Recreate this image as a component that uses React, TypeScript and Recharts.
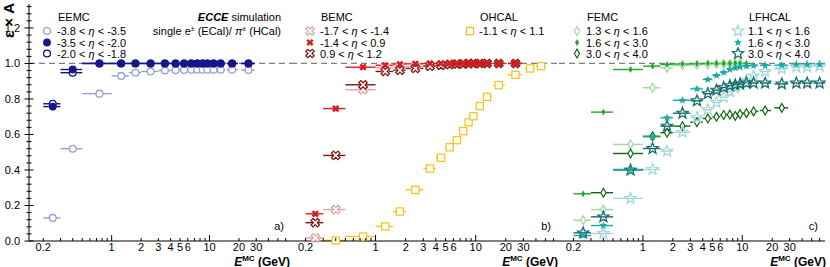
import React from "react";
import { ScatterChart, Scatter, XAxis, YAxis, ErrorBar, ReferenceLine } from "recharts";

// energy bins (GeV): centre, lower edge, upper edge
const E_GEV = [0.25, 0.4, 0.75, 1.25, 1.75, 2.5, 3.5, 4.5, 5.5, 6.5, 7.5, 8.5, 9.5, 11, 13, 17, 25, 35, 45, 60];
const BIN_LO = [0.2, 0.3, 0.5, 1.0, 1.5, 2.0, 3.0, 4.0, 5.0, 6.0, 7.0, 8.0, 9.0, 10, 12, 15, 21, 31, 40, 52];
const BIN_HI = [0.3, 0.5, 1.0, 1.5, 2.0, 3.0, 4.0, 5.0, 6.0, 7.0, 8.0, 9.0, 10, 12, 14.5, 19.5, 29, 39, 50, 68];

// a) EEMC
const EEMC_38_35 = [0.13, 0.52, 0.83, 0.93, 0.948, 0.955, 0.96, 0.962, 0.963, 0.965, 0.965, 0.965, 0.965, 0.965, 0.965, 0.965, 0.963, null, null, null];
const EEMC_35_20 = [0.757, 0.966, 1, 1, 1, 1, 1, 1, 1, 1, 1, 1, 1, 1, 1, 1, 1, null, null, null];
const EEMC_20_18 = [0.773, 0.948, 1, 1, 1, 1, 1, 1, 1, 1, 1, 1, 1, 1, 1, 1, 1, null, null, null];

// b) BEMC + OHCAL
const BEMC_17_14 = [0.018, 0.177, 0.852, 0.975, 0.98, 0.983, 0.987, 0.99, 0.993, 0.995, 0.997, 0.998, 0.998, 1, 1, 1, 1, null, null, null];
const BEMC_14_09 = [0.153, 0.746, 0.979, 0.99, 0.995, 0.998, 1, 1, 1, 1, 1, 1, 1, 1, 1, 1, 1, null, null, null];
const BEMC_09_12 = [0.103, 0.482, 0.88, 0.955, 0.962, 0.972, 0.985, 0.99, 0.995, 0.997, 0.998, 1, 1, 1, 1, 1, 1, null, null, null];
const OHCAL_11_11 = [null, 0.003, 0.025, 0.082, 0.166, 0.288, 0.408, 0.469, 0.528, 0.568, 0.619, 0.669, 0.703, 0.76, 0.812, 0.878, 0.936, 0.972, 0.985, null];

// c) FEMC + LFHCAL
const FEMC_13_16 = [0.117, 0.177, 0.544, 0.863, 0.975, 0.99, 0.993, 0.995, 0.997, 0.998, 0.998, 0.999, 1, null, null, null, null, null, null, null];
const FEMC_16_30 = [0.266, 0.726, 0.966, 0.985, 0.994, 0.997, 0.998, 1, 1, 1, 1, 1, 1, 1, null, null, null, null, null, null];
const FEMC_30_40 = [null, 0.272, 0.493, 0.59, 0.61, 0.647, 0.669, 0.69, 0.7, 0.71, 0.712, 0.705, 0.715, 0.72, 0.73, 0.735, 0.75, null, null, null];
const LFHCAL_11_16 = [null, 0.042, 0.24, 0.403, 0.506, 0.613, 0.695, 0.74, 0.78, 0.81, 0.84, 0.86, 0.88, 0.905, 0.93, 0.955, 0.97, 0.98, 0.98, 0.985];
const LFHCAL_16_30 = [0.031, 0.087, 0.403, 0.587, 0.694, 0.793, 0.857, 0.91, 0.932, 0.95, 0.966, 0.975, 0.98, 0.985, 0.988, 0.99, 0.99, 0.995, 0.995, 0.995];
const LFHCAL_30_40 = [0.046, 0.136, 0.4, 0.521, 0.647, 0.72, 0.79, 0.83, 0.85, 0.865, 0.875, 0.88, 0.885, 0.89, 0.89, 0.89, 0.885, 0.89, 0.89, 0.89];

const X_DOMAIN = [0.143, 68];
const Y_DOMAIN = [0, 1.335];
const X_TICKS = [0.2, 0.3, 0.4, 0.5, 0.6, 0.7, 0.8, 0.9, 1, 2, 3, 4, 5, 6, 7, 8, 9, 10, 20, 30, 40, 50, 60];
const X_TICK_LABELS = ["0.2", "1", "2", "3", "4", "5", "6", "10", "20", "30"];
const X_MAJOR = [1, 10];
const Y_TICK_LABELS = ["0.0", "0.2", "0.4", "0.6", "0.8", "1.0", "1.2"];
const Y_TICKS = Array.from({ length: 34 }, (_, i) => +(i * 0.04).toFixed(2));

const FONT = "'Liberation Sans', Arial, Helvetica, sans-serif";

type Kind = "circleOpen" | "circle" | "xOpen" | "x" | "squareOpen" | "diamondOpen" | "diamond" | "starOpen" | "star";

function starPts(cx: number, cy: number, ro: number, ri: number) {
  const pts: string[] = [];
  for (let k = 0; k < 10; k++) {
    const r = k % 2 === 0 ? ro : ri;
    const a = -Math.PI / 2 + (k * Math.PI) / 5;
    pts.push(`${cx + r * Math.cos(a)},${cy + r * Math.sin(a)}`);
  }
  return pts.join(" ");
}

function crossPts(cx: number, cy: number, r: number, a: number) {
  const base = [[a, r], [a, a], [r, a], [r, -a], [a, -a], [a, -r], [-a, -r], [-a, -a], [-r, -a], [-r, a], [-a, a], [-a, r]];
  const c = Math.SQRT1_2;
  return base.map(([x, y]) => `${cx + (x - y) * c},${cy + (x + y) * c}`).join(" ");
}

function Glyph({ cx, cy, kind, color }: { cx: number; cy: number; kind: Kind; color: string }) {
  if (cx == null || cy == null) return null;
  switch (kind) {
    case "circleOpen":
      return <circle cx={cx} cy={cy} r={3.4} fill="#fff" stroke={color} strokeWidth={1.3} />;
    case "circle":
      return <circle cx={cx} cy={cy} r={3.9} fill={color} />;
    case "squareOpen":
      return <rect x={cx - 3.6} y={cy - 3.6} width={7.2} height={7.2} fill="#fff" stroke={color} strokeWidth={1.3} />;
    case "xOpen":
      return <polygon points={crossPts(cx, cy, 4.6, 1.4)} fill="#fff" stroke={color} strokeWidth={1.2} />;
    case "x":
      return <polygon points={crossPts(cx, cy, 3.8, 1.3)} fill={color} />;
    case "diamondOpen":
      return <polygon points={`${cx},${cy - 4.4} ${cx + 2.6},${cy} ${cx},${cy + 4.4} ${cx - 2.6},${cy}`} fill="#fff" stroke={color} strokeWidth={1.2} />;
    case "diamond":
      return <polygon points={`${cx},${cy - 3.4} ${cx + 2},${cy} ${cx},${cy + 3.4} ${cx - 2},${cy}`} fill={color} />;
    case "starOpen":
      return <polygon points={starPts(cx, cy, 5.8, 2.5)} fill="none" stroke={color} strokeWidth={1.3} />;
    case "star":
      return <polygon points={starPts(cx, cy, 4.2, 1.8)} fill={color} />;
  }
  return null;
}

interface SeriesDef {
  label: string;
  values: (number | null)[];
  color: string;
  kind: Kind;
}

interface LegendGroup {
  title: string;
  x: number; // text x
  mx: number; // marker x
  items: SeriesDef[];
}

const S_EEMC_1: SeriesDef = { label: "-3.8 < η < -3.5", values: EEMC_38_35, color: "#9c9cdc", kind: "circleOpen" };
const S_EEMC_2: SeriesDef = { label: "-3.5 < η < -2.0", values: EEMC_35_20, color: "#16168c", kind: "circle" };
const S_EEMC_3: SeriesDef = { label: "-2.0 < η < -1.8", values: EEMC_20_18, color: "#121270", kind: "circleOpen" };
const S_BEMC_1: SeriesDef = { label: "-1.7 < η < -1.4", values: BEMC_17_14, color: "#dca4a4", kind: "xOpen" };
const S_BEMC_2: SeriesDef = { label: "-1.4 < η < 0.9", values: BEMC_14_09, color: "#dc1c1c", kind: "x" };
const S_BEMC_3: SeriesDef = { label: "0.9 < η < 1.2", values: BEMC_09_12, color: "#7e1414", kind: "xOpen" };
const S_OHCAL: SeriesDef = { label: "-1.1 < η < 1.1", values: OHCAL_11_11, color: "#f6c428", kind: "squareOpen" };
const S_FEMC_1: SeriesDef = { label: "1.3 < η < 1.6", values: FEMC_13_16, color: "#9cd89c", kind: "diamondOpen" };
const S_FEMC_2: SeriesDef = { label: "1.6 < η < 3.0", values: FEMC_16_30, color: "#22a822", kind: "diamond" };
const S_FEMC_3: SeriesDef = { label: "3.0 < η < 4.0", values: FEMC_30_40, color: "#0e6a0e", kind: "diamondOpen" };
const S_LF_1: SeriesDef = { label: "1.1 < η < 1.6", values: LFHCAL_11_16, color: "#a4d8d8", kind: "starOpen" };
const S_LF_2: SeriesDef = { label: "1.6 < η < 3.0", values: LFHCAL_16_30, color: "#1aa8a8", kind: "star" };
const S_LF_3: SeriesDef = { label: "3.0 < η < 4.0", values: LFHCAL_30_40, color: "#176c6c", kind: "starOpen" };

function toPoints(values: (number | null)[]) {
  const out: { x: number; y: number; ex: number[] }[] = [];
  E_GEV.forEach((e, i) => {
    const v = values[i];
    if (v == null) return;
    out.push({ x: e, y: v, ex: [e - BIN_LO[i], BIN_HI[i] - e] });
  });
  return out;
}

const isMajorY = (v: number) => Math.abs(v / 0.2 - Math.round(v / 0.2)) < 1e-6;

function BottomTick(p: any) {
  const v = p.payload.value;
  const label = X_TICK_LABELS.find((l) => +l === v);
  const len = X_MAJOR.includes(v) ? 6 : 3;
  return (
    <g>
      <line x1={p.x} x2={p.x} y1={p.y} y2={p.y - len} stroke="#000" />
      {label && (
        <text x={p.x} y={p.y + 10} textAnchor="middle" fontSize={11} fontFamily={FONT} fill="#000">
          {label}
        </text>
      )}
    </g>
  );
}

function TopTick(p: any) {
  const len = X_MAJOR.includes(p.payload.value) ? 6 : 3;
  return <line x1={p.x} x2={p.x} y1={p.y} y2={p.y + len} stroke="#000" />;
}

function LeftTick(p: any, labels: boolean) {
  const v = p.payload.value;
  const major = isMajorY(v);
  const len = major ? 4.5 : 2.5;
  const label = major ? Y_TICK_LABELS.find((l) => Math.abs(+l - v) < 1e-6) : undefined;
  return (
    <g>
      <line x1={p.x - len} x2={p.x + len} y1={p.y} y2={p.y} stroke="#000" />
      {labels && label && (
        <text x={p.x - 9} y={p.y + 4} textAnchor="end" fontSize={11} fontFamily={FONT} fill="#000">
          {label}
        </text>
      )}
    </g>
  );
}

function RightTick(p: any) {
  const len = isMajorY(p.payload.value) ? 4.5 : 2.5;
  return <line x1={p.x} x2={p.x - len} y1={p.y} y2={p.y} stroke="#000" />;
}

function Panel({ left, width, marginLeft, yWidth, series, labels }: { left: number; width: number; marginLeft: number; yWidth: number; series: SeriesDef[]; labels: boolean }) {
  return (
    <div style={{ position: "absolute", left, top: 0 }}>
      <ScatterChart width={width} height={267} margin={{ top: 4, right: 1, bottom: 0, left: marginLeft }}>
        <XAxis xAxisId="b" dataKey="x" type="number" scale="log" domain={X_DOMAIN} ticks={X_TICKS} interval={0}
          tickLine={false} tickSize={0} tickMargin={0} tick={BottomTick} axisLine={{ stroke: "#000" }} height={26} />
        <XAxis xAxisId="t" orientation="top" dataKey="x" type="number" scale="log" domain={X_DOMAIN} ticks={X_TICKS} interval={0}
          tickLine={false} tickSize={0} tickMargin={0} tick={TopTick} axisLine={{ stroke: "#000" }} height={0} />
        <YAxis yAxisId="l" dataKey="y" type="number" domain={Y_DOMAIN} ticks={Y_TICKS} interval={0}
          tickLine={false} tickSize={0} tickMargin={0} tick={(p: any) => LeftTick(p, labels)} axisLine={{ stroke: "#000" }} width={yWidth} />
        <YAxis yAxisId="r" orientation="right" dataKey="y" type="number" domain={Y_DOMAIN} ticks={Y_TICKS} interval={0}
          tickLine={false} tickSize={0} tickMargin={0} tick={RightTick} axisLine={{ stroke: "#000" }} width={0} />
        <ReferenceLine xAxisId="b" yAxisId="l" y={1} stroke="#808080" strokeDasharray="6 4" strokeWidth={1.2} />
        {series.map((s) => (
          <Scatter key={s.label + s.color} xAxisId="b" yAxisId="l" data={toPoints(s.values)} isAnimationActive={false}
            shape={(p: any) => <Glyph cx={p.cx} cy={p.cy} kind={s.kind} color={s.color} />}>
            <ErrorBar dataKey="ex" direction="x" width={0} stroke={s.color} strokeWidth={1.4} isAnimationActive={false} />
          </Scatter>
        ))}
      </ScatterChart>
    </div>
  );
}

const LEGENDS: LegendGroup[] = [
  { title: "EEMC", x: 57, mx: 47, items: [S_EEMC_1, S_EEMC_2, S_EEMC_3] },
  { title: "BEMC", x: 320, mx: 310, items: [S_BEMC_1, S_BEMC_2, S_BEMC_3] },
  { title: "OHCAL", x: 479, mx: 470, items: [S_OHCAL] },
  { title: "FEMC", x: 586, mx: 577, items: [S_FEMC_1, S_FEMC_2, S_FEMC_3] },
  { title: "LFHCAL", x: 748, mx: 738, items: [S_LF_1, S_LF_2, S_LF_3] },
];
const ROW_Y = [31, 42.5, 53.5];

function EtaLabel({ x, y, text }: { x: number; y: number; text: string }) {
  const [a, b] = text.split("η");
  return (
    <text x={x} y={y} fontSize={11} fontFamily={FONT} fill="#000">
      {a}
      <tspan fontStyle="italic">η</tspan>
      {b}
    </text>
  );
}

function XTitle({ right }: { right: number }) {
  return (
    <text x={right} y={265.5} textAnchor="end" fontSize={12} fontWeight="bold" fontFamily={FONT} fill="#000">
      <tspan fontStyle="italic">E</tspan>
      <tspan dy={-5} fontSize={8}>MC</tspan>
      <tspan dy={5}> (GeV)</tspan>
    </text>
  );
}

export default function App() {
  return (
    <div style={{ position: "absolute", left: 0, top: 0, width: 830, height: 267, background: "#fff", overflow: "hidden" }}>
      <Panel left={0} width={292} marginLeft={0} yWidth={29} series={[S_EEMC_1, S_EEMC_3, S_EEMC_2]} labels />
      <Panel left={290} width={270} marginLeft={1} yWidth={0} series={[S_OHCAL, S_BEMC_1, S_BEMC_3, S_BEMC_2]} labels={false} />
      <Panel left={558} width={268} marginLeft={1} yWidth={0} series={[S_FEMC_1, S_FEMC_3, S_FEMC_2, S_LF_1, S_LF_3, S_LF_2]} labels={false} />
      <svg width={830} height={267} style={{ position: "absolute", left: 0, top: 0, pointerEvents: "none" }}>
        <text transform="translate(14,3) rotate(-90)" textAnchor="end" fontSize={15} fontWeight="bold" fontFamily={FONT} fill="#000">
          ε × A
        </text>
        <text x={281} y={20.5} textAnchor="end" fontSize={11} fontFamily={FONT} fill="#000">
          <tspan fontWeight="bold" fontStyle="italic">ECCE</tspan> simulation
        </text>
        <text x={281} y={35} textAnchor="end" fontSize={11} fontFamily={FONT} fill="#000">
          single e<tspan dy={-4} fontSize={7}>±</tspan>
          <tspan dy={4}> (ECal)/ </tspan>
          <tspan fontStyle="italic">π</tspan>
          <tspan dy={-4} fontSize={7}>±</tspan>
          <tspan dy={4}> (HCal)</tspan>
        </text>
        {LEGENDS.map((g) => (
          <g key={g.title}>
            <text x={g.x + 1} y={20.5} fontSize={11} fontFamily={FONT} fill="#000">{g.title}</text>
            {g.items.map((s, i) => (
              <g key={s.label + i}>
                <Glyph cx={g.mx} cy={ROW_Y[i]} kind={s.kind} color={s.color} />
                <EtaLabel x={g.x} y={ROW_Y[i] + 4} text={s.label} />
              </g>
            ))}
          </g>
        ))}
        <text x={284} y={230} textAnchor="end" fontSize={11} fontFamily={FONT} fill="#000">a)</text>
        <text x={551} y={230} textAnchor="end" fontSize={11} fontFamily={FONT} fill="#000">b)</text>
        <text x={818} y={230} textAnchor="end" fontSize={11} fontFamily={FONT} fill="#000">c)</text>
        <XTitle right={290} />
        <XTitle right={558} />
        <XTitle right={826} />
      </svg>
    </div>
  );
}
